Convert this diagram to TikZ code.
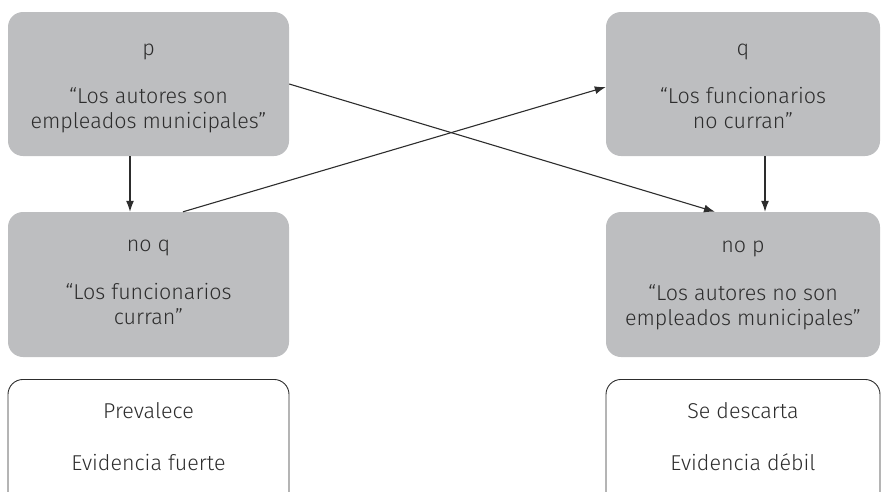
\documentclass[tikz,border=0pt]{standalone}
\usepackage{fontspec}
\setmainfont{Fira Sans}[UprightFont=* Light]
\usetikzlibrary{arrows.meta}
\definecolor{boxgray}{RGB}{189,190,192}
\definecolor{ink}{RGB}{45,45,45}
\begin{document}
\begin{tikzpicture}[x=1pt,y=-1pt,
  txt/.style={text=ink,font=\fontsize{21.5}{25}\selectfont,align=center,inner sep=0pt,anchor=north},
  greybox/.style={fill=boxgray,rounded corners=15pt,inner sep=0pt},
  whitebox/.style={draw=ink,line width=0.9pt,fill=white,rounded corners=15pt,inner sep=0pt},
  conn/.style={draw=ink,line width=1.1pt,-{Latex[length=11pt,width=8pt]}}]
\useasboundingbox (0,0) rectangle (881,491);
\clip (0,0) rectangle (881,491);
% boxes
\node[greybox,minimum width=281pt,minimum height=144pt] (p) at (148.5,84) {};
\node[greybox,minimum width=274pt,minimum height=144pt] (q) at (743,84) {};
\node[greybox,minimum width=281pt,minimum height=145pt] (noq) at (148.5,284.5) {};
\node[greybox,minimum width=274pt,minimum height=145pt] (nop) at (743,284.5) {};
\node[whitebox,minimum width=281pt,minimum height=150pt,anchor=north] (prev) at (148.5,379) {};
\node[whitebox,minimum width=274pt,minimum height=150pt,anchor=north] (desc) at (743,379) {};
% texts (first line baseline = top + 17.5)
\node[txt] (pt) at ([yshift=-25.5pt]p.north)
  {\strut p\\[23pt]“Los autores son\\empleados municipales”};
\node[txt] (qt) at ([yshift=-25.5pt]q.north)
  {\strut q\\[23pt]“Los funcionarios\\no curran”};
\node[txt] (noqt) at ([yshift=-21.5pt]noq.north)
  {\strut no q\\[23pt]“Los funcionarios\\curran”};
\node[txt] (nopt) at ([yshift=-22.5pt]nop.north)
  {\strut no p\\[23pt]“Los autores no son\\empleados municipales”};
\node[txt] (prevt) at ([yshift=-21.5pt]prev.north)
  {\strut Prevalece\\[27pt]Evidencia fuerte};
\node[txt] (desct) at ([yshift=-21.5pt]desc.north)
  {\strut Se descarta\\[27pt]Evidencia débil};
% connectors
\draw[conn] ([xshift=-18.5pt]p.south) -- ([xshift=-18.5pt]noq.north);
\draw[conn] ([xshift=22pt]q.south) -- ([xshift=22pt]nop.north);
\draw[conn] (p.east) -- ([xshift=-28pt]nop.north);
\draw[conn] ([xshift=34.5pt]noq.north) -- ([yshift=-3pt]q.west);
\end{tikzpicture}
\end{document}
